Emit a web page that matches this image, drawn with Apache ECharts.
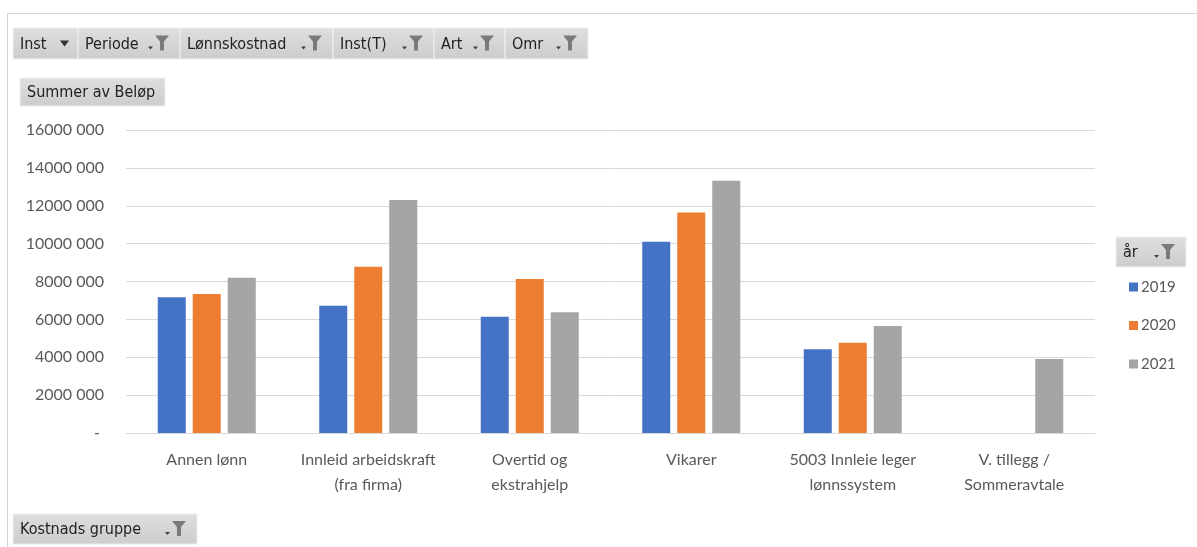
<!DOCTYPE html>
<html>
<head>
<meta charset="utf-8">
<script src="https://cdn.jsdelivr.net/npm/echarts@6/dist/echarts.min.js"></script>
<style>
  html, body { margin: 0; padding: 0; background: #ffffff; }
  #chart { width: 1197px; height: 547px; }
</style>
</head>
<body>
<div id="chart"></div>
<script>
// Kostnadsgrupper (x-akse)
const categories = [
  'Annen lønn',
  'Innleid arbeidskraft\n(fra firma)',
  'Overtid og\nekstrahjelp',
  'Vikarer',
  '5003 Innleie leger\nlønnssystem',
  'V. tillegg /\nSommeravtale'
];
const years = ['2019', '2020', '2021'];
// Summer av Beløp per år
const values2019 = [7170000, 6720000, 6140000, 10100000, 4420000, null];
const values2020 = [7340000, 8780000, 8130000, 11650000, 4770000, null];
const values2021 = [8200000, 12300000, 6370000, 13320000, 5650000, 3910000];
const yTicks = { min: 0, max: 16000000, interval: 2000000 };

const colors = ['#4472C4', '#ED7D31', '#A5A5A5'];
const textColor = '#595959';
const btnFont = '"DejaVu Sans Condensed", "DejaVu Sans", sans-serif';

// Pivot field buttons (grey Excel-style)
function funnel(x, y) {
  // small dropdown arrow + funnel icon
  return [
    { type: 'polygon', shape: { points: [[x - 10, y + 11], [x - 5, y + 11], [x - 7.5, y + 14]] }, style: { fill: '#404040' } },
    { type: 'polygon', shape: { points: [[x - 3, y], [x + 11, y], [x + 6, y + 6], [x + 6, y + 15], [x + 2, y + 15], [x + 2, y + 6]] }, style: { fill: '#7a7a7a' } }
  ];
}
function button(x, y, w, h, label, icon) {
  const els = [
    { type: 'rect', shape: { x: x, y: y, width: w, height: h },
      style: { fill: new echarts.graphic.LinearGradient(0, 0, 0, 1, [{ offset: 0, color: '#dedede' }, { offset: 1, color: '#cdcdcd' }]), stroke: '#f0f0f0', lineWidth: 1 } },
    { type: 'text', x: x + 7, y: y + h / 2 + 1, style: { text: label, font: '16px ' + btnFont, fill: '#222', verticalAlign: 'middle' } }
  ];
  if (icon === 'funnel') els.push(...funnel(x + w - 22, y + h / 2 - 8));
  if (icon === 'arrow') els.push({ type: 'polygon', shape: { points: [[x + w - 18, y + h / 2 - 3], [x + w - 9, y + h / 2 - 3], [x + w - 13.5, y + h / 2 + 3]] }, style: { fill: '#333' } });
  return els;
}

const topButtons = [
  ['Inst', 13, 65, 'arrow'],
  ['Periode', 78, 102, 'funnel'],
  ['Lønnskostnad', 180, 153, 'funnel'],
  ['Inst(T)', 333, 101, 'funnel'],
  ['Art', 434, 71, 'funnel'],
  ['Omr', 505, 83, 'funnel']
];
let graphics = [
  // outer frame
  { type: 'line', shape: { x1: 7, y1: 13.5, x2: 1197, y2: 13.5 }, style: { stroke: '#d4d4d4', lineWidth: 1 } },
  { type: 'line', shape: { x1: 7.5, y1: 13, x2: 7.5, y2: 547 }, style: { stroke: '#d4d4d4', lineWidth: 1 } }
];
topButtons.forEach(b => { graphics.push(...button(b[1], 28, b[2], 31, b[0], b[3])); });
graphics.push(...button(20, 78, 145, 28, 'Summer av Beløp', null));
graphics.push(...button(13, 514, 184, 30, 'Kostnads gruppe', 'funnel'));
graphics.push(...button(1116, 237, 70, 30, 'år', 'funnel'));

const seriesData = [values2019, values2020, values2021];

const option = {
  animation: false,
  backgroundColor: '#ffffff',
  color: colors,
  textStyle: { fontFamily: 'Lato, "Open Sans", sans-serif' },
  grid: { left: 126, right: 102, top: 130, bottom: 114, containLabel: false },
  legend: {
    orient: 'vertical',
    left: 1124,
    top: 274,
    itemWidth: 9,
    itemHeight: 9,
    itemGap: 22.5,
    icon: 'rect',
    data: years,
    textStyle: { color: textColor, fontSize: 15, lineHeight: 16, fontFamily: 'Lato, sans-serif', padding: [0, 0, 0, -2] }
  },
  xAxis: {
    type: 'category',
    data: categories,
    axisLine: { lineStyle: { color: '#d9d9d9' } },
    axisTick: { show: false },
    axisLabel: { color: textColor, fontSize: 16, lineHeight: 25, margin: 14, interval: 0 }
  },
  yAxis: {
    type: 'value',
    min: yTicks.min,
    max: yTicks.max,
    interval: yTicks.interval,
    axisLine: { show: false },
    axisTick: { show: false },
    splitLine: { lineStyle: { color: '#d9d9d9' } },
    axisLabel: {
      color: textColor,
      fontSize: 16,
      margin: 22,
      formatter: v => v === 0 ? '- ' : (v / 1000) + ' 000'
    }
  },
  series: years.map((y, i) => ({
    name: y,
    type: 'bar',
    data: seriesData[i],
    barWidth: 28,
    barGap: '25%'
  })),
  graphic: graphics
};

const chart = echarts.init(document.getElementById('chart'), null, { renderer: 'canvas' });
chart.setOption(option);
</script>
</body>
</html>
